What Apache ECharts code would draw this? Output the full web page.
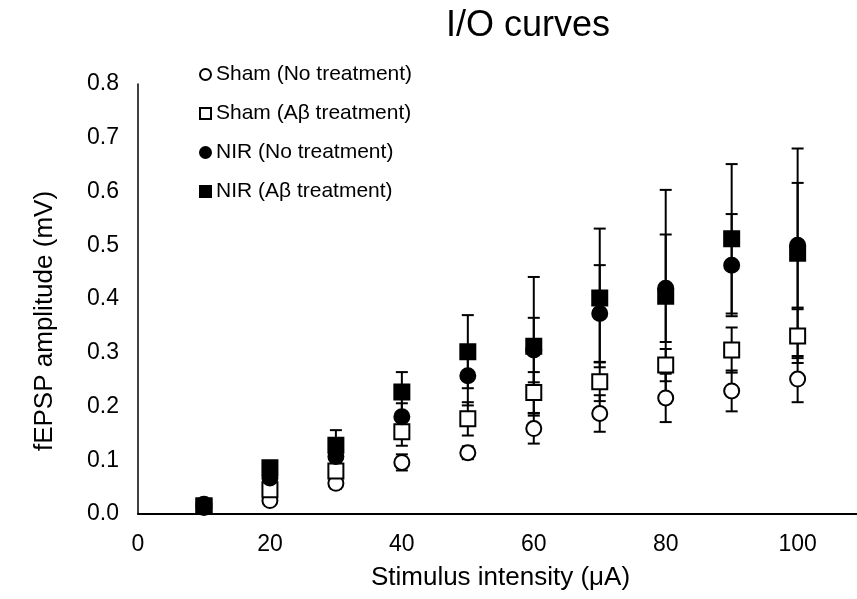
<!DOCTYPE html>
<html>
<head>
<meta charset="utf-8">
<script src="https://cdn.jsdelivr.net/npm/echarts@6/dist/echarts.min.js"></script>
<style>
html,body{margin:0;padding:0;background:#fff;}
#chart{width:857px;height:599px;}
</style>
</head>
<body>
<div id="chart"></div>
<script>
// ---- data ----
const stimulus = [10, 20, 30, 40, 50, 60, 70, 80, 90, 100];
const seriesNames = ['Sham (No treatment)', 'Sham (Aβ treatment)', 'NIR (No treatment)', 'NIR (Aβ treatment)'];
const shamNo     = [0.012, 0.025, 0.057, 0.096, 0.114, 0.159, 0.187, 0.216, 0.229, 0.251];
const shamNoErr  = [0.004, 0.006, 0.010, 0.015, 0.012, 0.028, 0.034, 0.045, 0.038, 0.043];
const shamAb     = [0.015, 0.045, 0.080, 0.153, 0.177, 0.226, 0.246, 0.277, 0.305, 0.331];
const shamAbErr  = [0.004, 0.008, 0.012, 0.026, 0.031, 0.038, 0.036, 0.030, 0.042, 0.050];
const nirNo      = [0.018, 0.067, 0.107, 0.181, 0.257, 0.305, 0.373, 0.420, 0.463, 0.500];
const nirNoErr   = [0.004, 0.008, 0.012, 0.025, 0.055, 0.060, 0.090, 0.100, 0.095, 0.116];
const nirAb      = [0.015, 0.086, 0.128, 0.227, 0.302, 0.312, 0.402, 0.405, 0.512, 0.485];
const nirAbErr   = [0.005, 0.012, 0.028, 0.037, 0.068, 0.129, 0.129, 0.198, 0.139, 0.195];
const yTickLabels = ['0.0', '0.1', '0.2', '0.3', '0.4', '0.5', '0.6', '0.7', '0.8'];
const xTickLabels = ['0', '20', '40', '60', '80', '100'];

const FONT = '"Liberation Sans", Arial, sans-serif';
const chart = echarts.init(document.getElementById('chart'), null, {renderer: 'canvas'});

function pts(vals) { return stimulus.map((x, i) => [x, vals[i]]); }
function errPts(vals, errs) { return stimulus.map((x, i) => [x, vals[i], errs[i]]); }

function errorSeries(name, vals, errs) {
  return {
    type: 'custom',
    name: name,
    z: 1,
    silent: true,
    clip: false,
    data: errPts(vals, errs),
    encode: {x: 0, y: 1},
    renderItem: function (params, api) {
      const x = api.value(0), y = api.value(1), e = api.value(2);
      const t = api.coord([x, y + e]);
      const b = api.coord([x, Math.max(0, y - e)]);
      const w = 6;
      const st = {stroke: '#000', lineWidth: 2};
      return {
        type: 'group',
        children: [
          {type: 'line', shape: {x1: t[0], y1: t[1], x2: b[0], y2: b[1]}, style: st},
          {type: 'line', shape: {x1: t[0] - w, y1: t[1], x2: t[0] + w, y2: t[1]}, style: st},
          {type: 'line', shape: {x1: b[0] - w, y1: b[1], x2: b[0] + w, y2: b[1]}, style: st}
        ]
      };
    }
  };
}

function markerSeries(name, vals, symbol, filled, z) {
  return {
    type: 'scatter',
    name: name,
    z: z,
    symbol: symbol,
    symbolSize: 15,
    data: pts(vals),
    itemStyle: {
      color: filled ? '#000' : '#fff',
      borderColor: '#000',
      borderWidth: 2,
      opacity: 1
    },
    emphasis: {disabled: true}
  };
}

chart.setOption({
  animation: false,
  backgroundColor: '#fff',
  title: {
    text: 'I/O curves',
    left: 441,
    top: 3,
    textStyle: {fontFamily: FONT, fontSize: 36, fontWeight: 'normal', color: '#000'}
  },
  legend: {
    data: seriesNames,
    orient: 'vertical',
    left: 194,
    top: 59,
    itemWidth: 11,
    itemHeight: 11,
    itemGap: 18,
    textStyle: {fontFamily: FONT, fontSize: 21, lineHeight: 21, color: '#000'}
  },
  grid: {left: 138, right: 0, top: 84, bottom: 85, containLabel: false},
  xAxis: {
    type: 'value',
    min: 0,
    max: 109,
    interval: 20,
    name: 'Stimulus intensity (μA)',
    nameLocation: 'middle',
    nameGap: 51,
    nameTextStyle: {fontFamily: FONT, fontSize: 26, color: '#000', padding: [0, 0, 0, 6]},
    axisLine: {show: true, onZero: false, lineStyle: {color: '#000', width: 2}},
    axisTick: {show: false},
    splitLine: {show: false},
    axisLabel: {
      fontFamily: FONT, fontSize: 23, color: '#000', margin: 19, showMaxLabel: false,
      formatter: function (v) { const i = Math.round(v / 20); return (v % 20 === 0 && i < xTickLabels.length) ? xTickLabels[i] : ''; }
    }
  },
  yAxis: {
    type: 'value',
    min: 0,
    max: 0.8,
    interval: 0.1,
    name: 'fEPSP amplitude (mV)',
    nameLocation: 'middle',
    nameGap: 80,
    nameTextStyle: {fontFamily: FONT, fontSize: 26, color: '#000', padding: [0, 44, 0, 0]},
    axisLine: {show: true, lineStyle: {color: '#000', width: 1.5}},
    axisTick: {show: false},
    splitLine: {show: false},
    axisLabel: {
      fontFamily: FONT, fontSize: 23, color: '#000', margin: 19,
      formatter: function (v) { const i = Math.round(v * 10); return yTickLabels[i] !== undefined ? yTickLabels[i] : ''; }
    }
  },
  series: [
    errorSeries('err0', shamNo, shamNoErr),
    errorSeries('err1', shamAb, shamAbErr),
    errorSeries('err2', nirNo, nirNoErr),
    errorSeries('err3', nirAb, nirAbErr),
    markerSeries(seriesNames[0], shamNo, 'circle', false, 2),
    markerSeries(seriesNames[1], shamAb, 'rect', false, 3),
    markerSeries(seriesNames[2], nirNo, 'circle', true, 4),
    markerSeries(seriesNames[3], nirAb, 'rect', true, 5)
  ]
});
</script>
</body>
</html>
